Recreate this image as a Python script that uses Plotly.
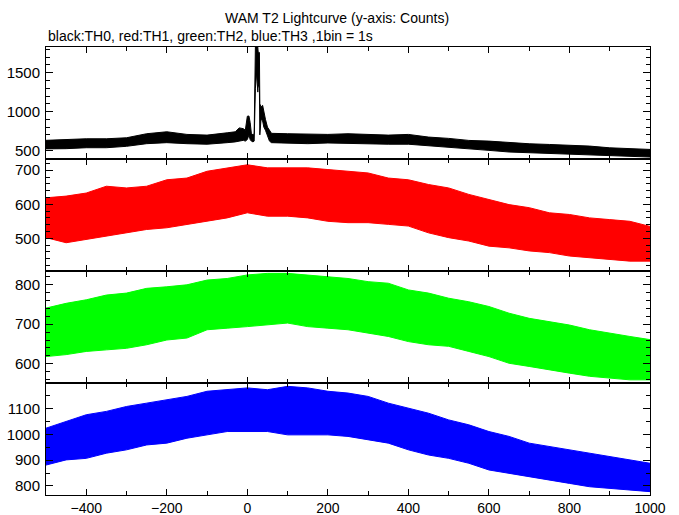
import plotly.graph_objects as go
from plotly.subplots import make_subplots

# ---- data (upper / lower extent of each noisy light curve) ----
t_std = [-500, -450, -400, -350, -300, -250, -200, -150, -100, -50, 0, 50,
         100, 150, 200, 250, 300, 350, 400, 450, 500, 550, 600, 650, 700,
         750, 800, 850, 900, 950, 1000]

# TH0 (black) with the burst near t = 0..60 s
t_th0 = [-500, -450, -400, -350, -300, -250, -200, -150, -100, -50,
         -30, -20, -10, -5, 0, 4, 7, 10, 14, 17, 18, 20, 23, 26, 27, 30, 31,
         34, 38, 41, 45, 50, 55, 60,
         100, 150, 200, 250, 300, 350, 400, 450, 500, 550, 600, 650, 700,
         750, 800, 850, 900, 950, 1000]
th0_hi = [630, 640, 650, 650, 663, 715, 740, 706, 697, 727,
          740, 790, 780, 760, 940, 943, 860, 720, 700, 720, 1300, 1830, 1830,
          1830, 1760, 1760, 1100, 1060, 1080, 980, 900, 800, 760, 720,
          715, 706, 706, 715, 706, 697, 706, 672, 655, 629, 620, 600, 586,
          577, 570, 556, 534, 525, 513]
th0_lo = [520, 523, 535, 535, 553, 587, 600, 587, 580, 600,
          610, 620, 630, 620, 640, 700, 640, 620, 610, 620, 700, 1300, 1500,
          1250, 1350, 1300, 700, 900, 880, 800, 760, 700, 620, 600,
          596, 587, 596, 596, 587, 580, 580, 566, 544, 523, 501, 480, 467,
          458, 450, 437, 437, 424, 415]

# TH1 (red)
th1_hi = [619, 624, 633, 653, 648, 653, 672, 677, 697, 707, 716, 707,
          707, 707, 702, 697, 692, 677, 672, 658, 648, 629, 614, 599, 590,
          575, 570, 560, 555, 550, 535]
th1_lo = [502, 487, 497, 506, 516, 526, 531, 541, 550, 560, 575, 565,
          565, 560, 550, 546, 546, 541, 536, 516, 502, 492, 477, 472, 463,
          458, 448, 443, 438, 433, 433]

# TH2 (green)
th2_hi = [741, 753, 762, 774, 779, 791, 795, 800, 812, 816, 825, 829,
          829, 825, 821, 816, 808, 804, 787, 779, 766, 757, 745, 728, 715,
          707, 698, 686, 677, 669, 661]
th2_lo = [618, 623, 631, 635, 639, 648, 660, 665, 686, 690, 694, 698,
          703, 694, 690, 686, 677, 669, 656, 648, 644, 631, 618, 601, 593,
          585, 576, 568, 564, 559, 559]

# TH3 (blue)
th3_hi = [1024, 1050, 1076, 1089, 1108, 1121, 1134, 1147, 1167, 1173, 1180,
          1173, 1186, 1180, 1167, 1160, 1147, 1121, 1102, 1082, 1056, 1037,
          1011, 992, 966, 953, 940, 927, 914, 901, 888]
th3_lo = [881, 901, 907, 927, 940, 959, 966, 985, 998, 1011, 1011,
          1011, 998, 998, 998, 992, 979, 966, 940, 920, 907, 888,
          862, 849, 836, 823, 810, 797, 791, 784, 778]

x_ticks = [-400, -200, 0, 200, 400, 600, 800, 1000]

panels = [
    (t_th0, th0_hi, th0_lo, "#000000", [390, 1830], 500, 100),
    (t_std, th1_hi, th1_lo, "#ff0000", [404, 733], 100, 20),
    (t_std, th2_hi, th2_lo, "#00ff00", [551, 835], 100, 20),
    (t_std, th3_hi, th3_lo, "#0000ff", [765, 1199], 100, 50),
]

FONT = "Liberation Sans, Arial, Helvetica, sans-serif"

fig = make_subplots(rows=4, cols=1, shared_xaxes=True, vertical_spacing=0)

for i, (t, hi, lo, col, yr, dt, mdt) in enumerate(panels, start=1):
    xs = list(t) + list(t)[::-1]
    ys = list(hi) + list(lo)[::-1]
    fig.add_trace(go.Scatter(x=xs, y=ys, mode="lines", fill="toself",
                             fillcolor=col, line=dict(color=col, width=1),
                             hoverinfo="skip", showlegend=False),
                  row=i, col=1)
    fig.update_yaxes(range=yr, dtick=dt, tick0=0, ticks="inside", ticklen=7,
                     tickcolor="black", tickwidth=1, showline=True,
                     linecolor="black", linewidth=1, mirror="allticks",
                     showgrid=False, zeroline=False, automargin=False,
                     ticklabelstandoff=2,
                     minor=dict(dtick=mdt, tick0=0, ticks="inside", ticklen=4,
                                tickcolor="black", showgrid=False),
                     tickfont=dict(family=FONT, size=15, color="black"),
                     row=i, col=1)
    fig.update_xaxes(range=[-500, 1000], tickvals=x_ticks, ticks="inside",
                     ticklen=6, tickcolor="black", showline=True,
                     linecolor="black", linewidth=1, mirror="allticks",
                     showgrid=False, zeroline=False, automargin=False,
                     minor=dict(dtick=100, tick0=0, ticks="inside", ticklen=4,
                                tickcolor="black", showgrid=False),
                     tickfont=dict(family=FONT, size=14, color="black"),
                     row=i, col=1)

fig.update_xaxes(showticklabels=True, row=4, col=1)

fig.add_annotation(text="WAM T2 Lightcurve (y-axis: Counts)", xref="paper",
                   yref="paper", x=0.482, y=1.0647, xanchor="center",
                   yanchor="middle", showarrow=False,
                   font=dict(family=FONT, size=14, color="black"))
fig.add_annotation(text="black:TH0, red:TH1, green:TH2, blue:TH3 ,1bin = 1s",
                   xref="paper", yref="paper", x=0.0, y=1.0246,
                   xanchor="left", yanchor="middle", showarrow=False,
                   font=dict(family=FONT, size=14, color="black"))

fig.update_layout(width=679, height=515,
                  margin=dict(l=46, r=29, t=47, b=20),
                  paper_bgcolor="white", plot_bgcolor="white",
                  showlegend=False)

fig.write_html("out.html",
               config={"displayModeBar": False},
               post_script="document.body.style.margin='0';"
                           "document.body.style.overflow='hidden';")
